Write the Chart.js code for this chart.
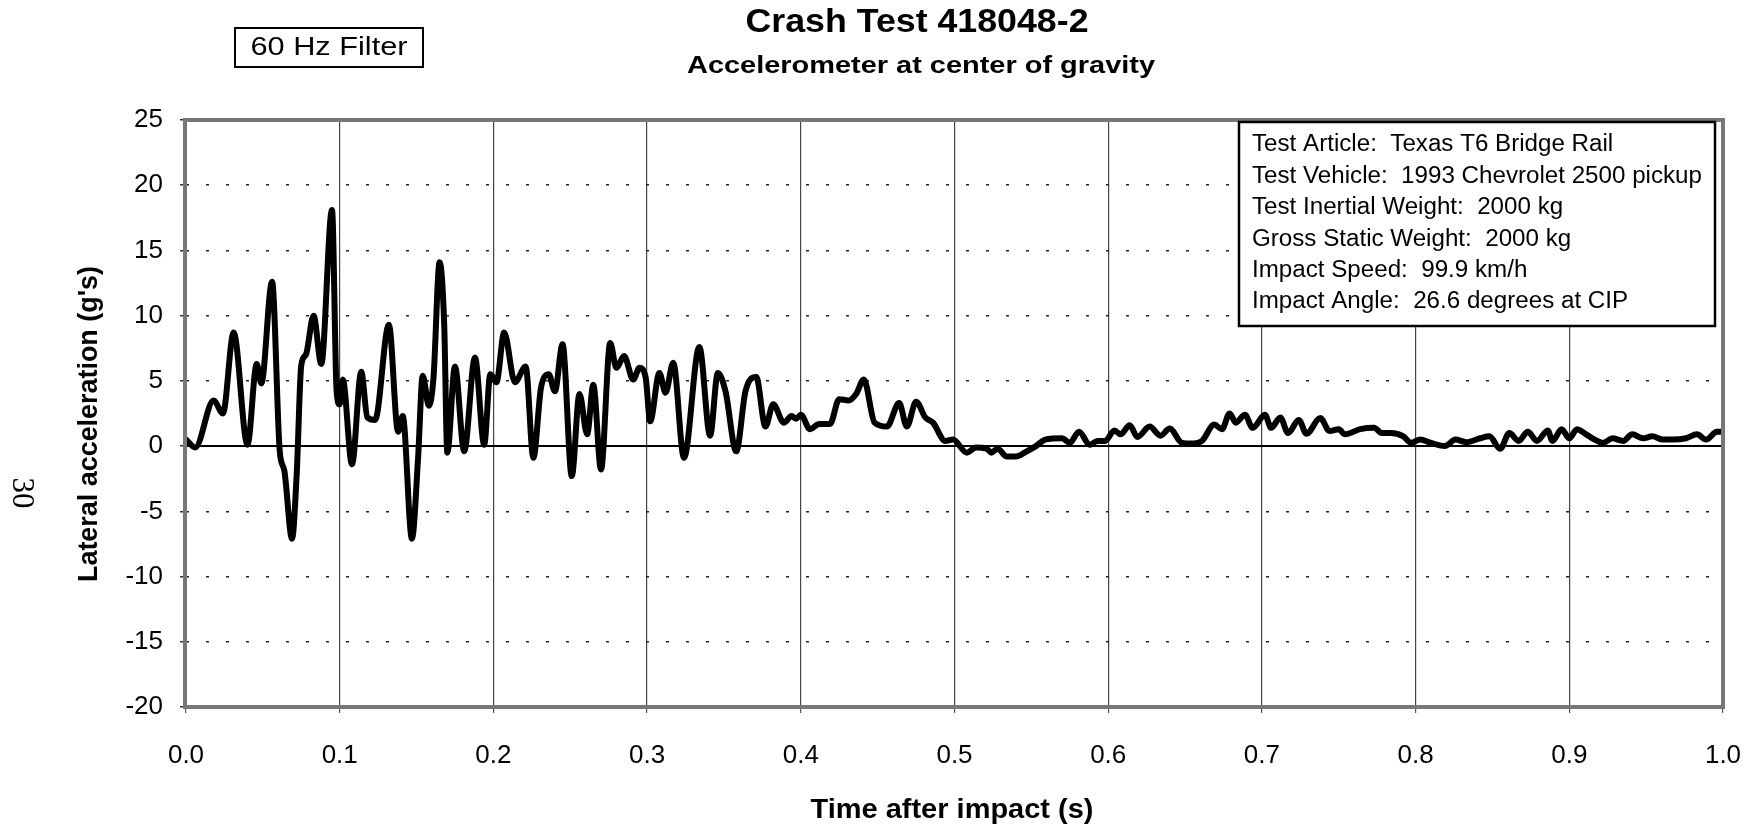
<!DOCTYPE html>
<html>
<head>
<meta charset="utf-8">
<title>Crash Test 418048-2</title>
<script src="https://cdn.jsdelivr.net/npm/chart.js@4/dist/chart.umd.min.js"></script>
<style>
  html, body { margin: 0; padding: 0; background: #fff; }
  canvas { display: block; }
</style>
</head>
<body>
<canvas id="accelChart" width="1756" height="831"></canvas>
<script>
// time after impact (s)
const times = [
  0.000, 0.006, 0.018, 0.024, 0.031, 0.040, 0.046, 0.049, 0.056, 0.061,
  0.064, 0.069, 0.072, 0.075, 0.078, 0.083, 0.088, 0.095, 0.098, 0.100,
  0.102, 0.108, 0.114, 0.118, 0.123, 0.132, 0.138, 0.141, 0.147, 0.151,
  0.154, 0.158, 0.161, 0.165, 0.168, 0.170, 0.175, 0.181, 0.188, 0.194,
  0.198, 0.202, 0.207, 0.214, 0.221, 0.226, 0.231, 0.236, 0.240, 0.245,
  0.251, 0.256, 0.261, 0.265, 0.270, 0.276, 0.280, 0.285, 0.291, 0.295,
  0.299, 0.302, 0.308, 0.312, 0.317, 0.324, 0.334, 0.341, 0.346, 0.351,
  0.358, 0.364, 0.371, 0.377, 0.382, 0.389, 0.394, 0.397, 0.400, 0.406,
  0.412, 0.419, 0.425, 0.431, 0.436, 0.441, 0.448, 0.456, 0.464, 0.469,
  0.475, 0.481, 0.486, 0.494, 0.499, 0.508, 0.514, 0.521, 0.524, 0.528,
  0.534, 0.540, 0.547, 0.553, 0.559, 0.570, 0.575, 0.581, 0.588, 0.593,
  0.598, 0.604, 0.608, 0.614, 0.619, 0.627, 0.634, 0.640, 0.648, 0.654,
  0.661, 0.669, 0.674, 0.679, 0.683, 0.689, 0.694, 0.702, 0.706, 0.712,
  0.717, 0.724, 0.729, 0.738, 0.744, 0.750, 0.754, 0.764, 0.773, 0.778,
  0.784, 0.792, 0.797, 0.803, 0.810, 0.819, 0.826, 0.833, 0.842, 0.848,
  0.855, 0.861, 0.867, 0.873, 0.879, 0.886, 0.889, 0.895, 0.900, 0.905,
  0.911, 0.915, 0.922, 0.928, 0.935, 0.941, 0.948, 0.954, 0.961, 0.967,
  0.976, 0.983, 0.989, 0.996, 1.000
];

// lateral acceleration (g's), 60 Hz filtered
const lateralG = [
  0.5, -0.1, 3.5, 2.5, 8.7, 0.1, 6.3, 4.8, 12.6, -0.4,
  -1.9, -7.1, -2.2, 6.2, 7.0, 10.0, 6.3, 18.1, 4.2, 3.2,
  5.1, -1.4, 5.7, 2.2, 2.0, 9.3, 1.1, 2.3, -7.1, -0.9,
  5.4, 3.1, 5.2, 14.1, 9.3, -0.5, 6.1, -0.4, 6.8, 0.1,
  5.5, 4.9, 8.7, 4.9, 6.1, -0.9, 4.5, 5.5, 4.2, 7.8,
  -2.3, 4.0, 0.9, 4.7, -1.8, 7.9, 6.0, 6.9, 5.1, 6.0,
  5.3, 1.9, 5.6, 4.1, 6.4, -0.9, 7.6, 0.8, 5.6, 4.2,
  -0.4, 4.2, 5.3, 1.5, 3.2, 1.8, 2.3, 2.1, 2.4, 1.3,
  1.7, 1.7, 3.6, 3.5, 4.0, 5.1, 1.8, 1.5, 3.3, 1.5,
  3.4, 2.2, 1.8, 0.4, 0.5, -0.5, -0.1, -0.2, -0.5, -0.2,
  -0.8, -0.8, -0.4, 0.0, 0.5, 0.6, 0.25, 1.1, 0.1, 0.4,
  0.4, 1.2, 0.9, 1.6, 0.7, 1.5, 0.8, 1.35, 0.25, 0.2,
  0.4, 1.65, 1.3, 2.5, 1.8, 2.4, 1.4, 2.4, 1.4, 2.2,
  1.0, 2.0, 0.95, 2.15, 1.15, 1.3, 0.9, 1.3, 1.4, 1.0,
  1.0, 0.75, 0.25, 0.5, 0.25, 0.0, 0.5, 0.3, 0.6, 0.75,
  -0.2, 1.0, 0.4, 1.1, 0.4, 1.2, 0.4, 1.3, 0.6, 1.3,
  0.9, 0.6, 0.25, 0.6, 0.4, 0.9, 0.6, 0.75, 0.5, 0.5,
  0.6, 0.9, 0.5, 1.1, 1.1
];

// axis ranges
const xMin = 0, xMax = 1, xStep = 0.1;
const yMin = -20, yMax = 25, yStep = 5;

const testInfo = [
  'Test Article:  Texas T6 Bridge Rail',
  'Test Vehicle:  1993 Chevrolet 2500 pickup',
  'Test Inertial Weight:  2000 kg',
  'Gross Static Weight:  2000 kg',
  'Impact Speed:  99.9 km/h',
  'Impact Angle:  26.6 degrees at CIP'
];

const SANS = '"Liberation Sans", Arial, sans-serif';

// draws text squeezed/stretched horizontally to a given width
function fitText(ctx, text, font, x, y, width, align) {
  ctx.save();
  ctx.font = font;
  const w = ctx.measureText(text).width;
  const sx = width ? width / w : 1;
  ctx.translate(x, y);
  ctx.scale(sx, 1);
  ctx.textAlign = align || 'center';
  ctx.textBaseline = 'middle';
  ctx.fillText(text, 0, 0);
  ctx.restore();
  return sx;
}

const decorations = {
  id: 'decorations',
  beforeDatasetsDraw(chart) {
    const { ctx, chartArea, scales } = chart;
    // solid zero line
    const y0 = scales.y.getPixelForValue(0);
    ctx.save();
    ctx.strokeStyle = '#000';
    ctx.lineWidth = 2;
    ctx.beginPath();
    ctx.moveTo(chartArea.left, y0);
    ctx.lineTo(chartArea.right, y0);
    ctx.stroke();
    ctx.restore();
  },
  afterDraw(chart) {
    const { ctx, chartArea } = chart;
    ctx.save();

    // plot frame
    ctx.strokeStyle = '#777';
    ctx.lineWidth = 4;
    ctx.strokeRect(chartArea.left - 1, chartArea.top, chartArea.right - chartArea.left + 1, chartArea.bottom - chartArea.top);

    // test info box
    ctx.fillStyle = '#fff';
    ctx.fillRect(1239, 122, 476, 204);
    ctx.strokeStyle = '#000';
    ctx.lineWidth = 2.5;
    ctx.strokeRect(1239, 122, 476, 204);
    ctx.fillStyle = '#000';
    ctx.font = '23px ' + SANS;
    const longest = Math.max(...testInfo.map(s => ctx.measureText(s).width));
    const sx = 450 / longest;
    testInfo.forEach((line, i) => {
      ctx.save();
      ctx.translate(1252, 145 + i * 31.4);
      ctx.scale(sx, 1);
      ctx.textAlign = 'left';
      ctx.textBaseline = 'middle';
      ctx.fillText(line, 0, 0);
      ctx.restore();
    });

    // titles
    fitText(ctx, 'Crash Test 418048-2', 'bold 34px ' + SANS, 917, 23, 343);
    fitText(ctx, 'Accelerometer at center of gravity', 'bold 24px ' + SANS, 921, 66, 468);

    // filter box
    ctx.strokeStyle = '#000';
    ctx.lineWidth = 2;
    ctx.strokeRect(235, 28, 188, 39);
    fitText(ctx, '60 Hz Filter', '26px ' + SANS, 329, 48, 157);

    // axis titles
    fitText(ctx, 'Time after impact (s)', 'bold 27px ' + SANS, 952, 811, 283);
    ctx.save();
    ctx.translate(90, 424);
    ctx.rotate(-Math.PI / 2);
    fitText(ctx, 'Lateral acceleration (g\'s)', 'bold 27px ' + SANS, 0, 0, 316);
    ctx.restore();

    // page number
    ctx.save();
    ctx.translate(21, 493);
    ctx.rotate(Math.PI / 2);
    ctx.font = '31px "Liberation Serif", "Times New Roman", serif';
    ctx.textAlign = 'center';
    ctx.textBaseline = 'middle';
    ctx.fillText('30', 0, 0);
    ctx.restore();

    ctx.restore();
  }
};

const ctx = document.getElementById('accelChart').getContext('2d');
new Chart(ctx, {
  type: 'line',
  data: {
    datasets: [{
      label: 'Lateral acceleration',
      data: times.map((t, i) => ({ x: t, y: lateralG[i] })),
      borderColor: '#000',
      borderWidth: 6,
      pointRadius: 0,
      fill: false,
      cubicInterpolationMode: 'monotone',
      borderJoinStyle: 'round',
      borderCapStyle: 'round'
    }]
  },
  options: {
    responsive: false,
    animation: false,
    devicePixelRatio: 1,
    layout: { autoPadding: false, padding: { top: 120, right: 33, bottom: 0, left: 0 } },
    plugins: {
      legend: { display: false },
      tooltip: { enabled: false }
    },
    scales: {
      x: {
        type: 'linear',
        min: xMin,
        max: xMax,
        afterFit(scale) {
          scale.height = 124;
          scale.paddingLeft = 0;
          scale.paddingRight = 0;
        },
        ticks: {
          stepSize: xStep,
          padding: 27,
          color: '#000',
          font: { family: SANS, size: 26 },
          callback: v => v.toFixed(1)
        },
        grid: {
          color: '#444',
          lineWidth: 1.2,
          tickLength: 6,
          tickColor: '#555'
        },
        border: { display: false }
      },
      y: {
        min: yMin,
        max: yMax,
        afterFit(scale) {
          scale.width = 186;
          scale.paddingTop = 0;
          scale.paddingBottom = 0;
        },
        ticks: {
          stepSize: yStep,
          padding: 17,
          color: '#000',
          font: { family: SANS, size: 26 },
          callback: v => String(v)
        },
        grid: {
          color: '#222',
          lineWidth: 1.5,
          tickLength: 6,
          tickColor: '#333',
          tickBorderDash: []
        },
        border: { display: false, dash: [3, 17] }
      }
    }
  },
  plugins: [decorations]
});
</script>
</body>
</html>
